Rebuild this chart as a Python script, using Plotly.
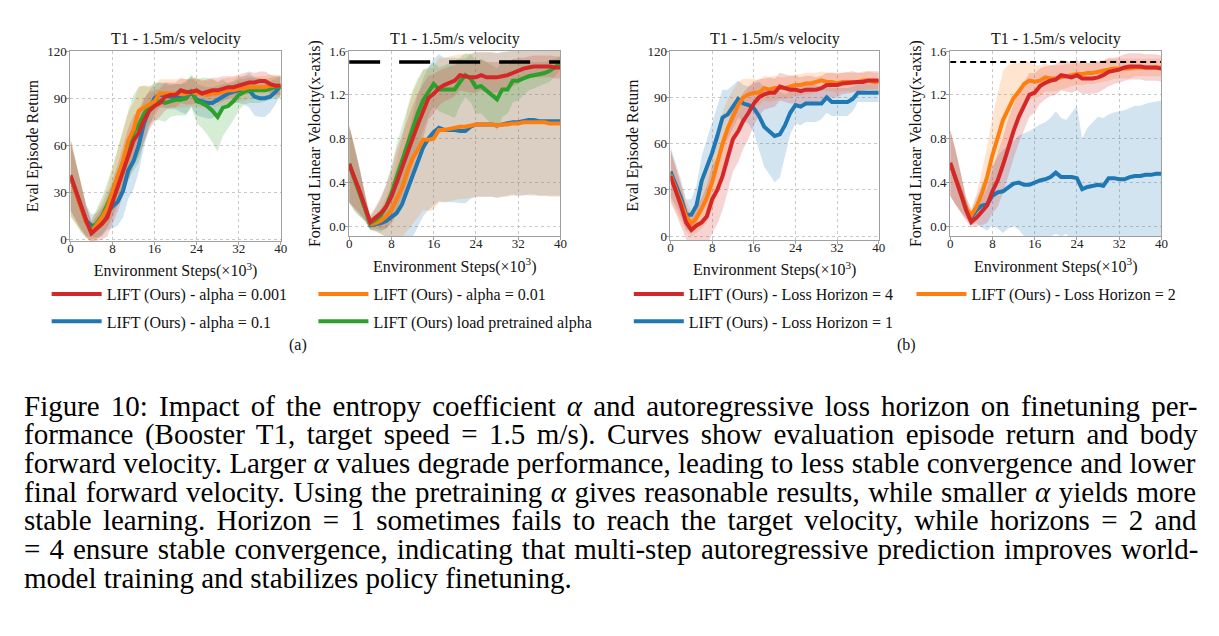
import plotly.graph_objects as go

W, H = 1219, 636
FONT = "Liberation Serif"

steps = list(range(0, 41))
xticks = [0, 8, 16, 24, 32, 40]
target_velocity = 1.5

# ---------------- (a) Eval return, entropy coefficient ----------------
ret_a001 = [41, 31, 21, 12, 4, 7, 10, 14, 24, 33, 43, 54, 63, 68, 76, 82, 85, 87, 91, 92, 92, 95, 94, 94, 95, 93, 94, 95, 95, 96, 97, 97, 98, 99, 100, 100, 101, 101, 99, 98, 98]
ret_a01 = [40, 30, 20, 11, 5, 9, 14, 20, 30, 40, 50, 63, 70, 82, 84, 86, 88, 93, 93, 93, 93, 93, 93, 94, 93, 93, 92, 93, 93, 94, 95, 95, 96, 96, 97, 97, 97, 97, 98, 98, 98]
ret_a1 = [40, 30, 20, 12, 9, 9, 12, 18, 21, 24, 31, 44, 50, 60, 74, 83, 90, 92, 92, 91, 91, 90, 90, 94, 89, 88, 87, 87, 89, 91, 93, 94, 95, 95, 95, 91, 90, 90, 91, 94, 98]
ret_apre = [40, 30, 20, 11, 6, 10, 15, 22, 30, 40, 50, 60, 68, 73, 80, 85, 88, 88, 87, 88, 89, 89, 90, 95, 88, 87, 85, 82, 78, 84, 85, 88, 92, 94, 95, 95, 95, 95, 96, 97, 97]
ret_a001_sd = [22, 18, 14, 10, 6, 8, 10, 12, 14, 15, 16, 17, 16, 15, 14, 12, 10, 9, 9, 8, 8, 8, 8, 8, 8, 8, 8, 8, 8, 8, 7, 7, 7, 7, 7, 6, 6, 6, 6, 6, 6]
ret_a01_sd = [25, 20, 15, 10, 7, 9, 11, 13, 15, 17, 18, 18, 17, 16, 14, 12, 10, 9, 9, 9, 9, 9, 9, 9, 9, 9, 9, 9, 8, 8, 8, 8, 8, 8, 7, 7, 7, 7, 7, 7, 7]
ret_a1_sd = [22, 18, 14, 10, 7, 8, 10, 12, 14, 15, 17, 18, 18, 17, 15, 12, 9, 8, 8, 8, 8, 9, 10, 10, 10, 10, 10, 10, 9, 8, 7, 7, 8, 9, 11, 12, 12, 12, 10, 8, 6]
ret_apre_sd = [25, 20, 15, 10, 6, 9, 12, 14, 16, 18, 20, 22, 24, 24, 18, 12, 12, 12, 12, 10, 10, 10, 11, 10, 14, 16, 18, 20, 22, 18, 14, 12, 10, 8, 8, 8, 8, 7, 7, 7, 7]

# ---------------- (a) Forward velocity, entropy coefficient ----------------
vel_a001 = [0.57, 0.45, 0.32, 0.18, 0.04, 0.08, 0.12, 0.18, 0.27, 0.40, 0.54, 0.67, 0.80, 0.93, 1.05, 1.17, 1.21, 1.26, 1.29, 1.31, 1.33, 1.38, 1.37, 1.36, 1.36, 1.38, 1.36, 1.36, 1.36, 1.37, 1.38, 1.40, 1.42, 1.44, 1.45, 1.46, 1.46, 1.46, 1.46, 1.45, 1.45]
vel_a01 = [0.57, 0.44, 0.31, 0.17, 0.02, 0.03, 0.05, 0.09, 0.15, 0.25, 0.35, 0.50, 0.62, 0.70, 0.79, 0.79, 0.80, 0.88, 0.88, 0.89, 0.90, 0.91, 0.91, 0.92, 0.93, 0.93, 0.93, 0.93, 0.92, 0.93, 0.93, 0.94, 0.94, 0.95, 0.95, 0.95, 0.95, 0.95, 0.94, 0.94, 0.94]
vel_a1 = [0.57, 0.44, 0.31, 0.17, 0.01, 0.02, 0.03, 0.05, 0.08, 0.12, 0.20, 0.33, 0.45, 0.60, 0.72, 0.80, 0.86, 0.90, 0.88, 0.88, 0.88, 0.87, 0.87, 0.91, 0.93, 0.93, 0.93, 0.93, 0.92, 0.93, 0.94, 0.95, 0.95, 0.96, 0.97, 0.97, 0.96, 0.96, 0.96, 0.96, 0.96]
vel_apre = [0.57, 0.44, 0.31, 0.17, 0.03, 0.06, 0.10, 0.18, 0.30, 0.45, 0.60, 0.75, 0.90, 1.03, 1.15, 1.23, 1.30, 1.25, 1.25, 1.25, 1.25, 1.32, 1.38, 1.35, 1.27, 1.28, 1.24, 1.20, 1.16, 1.25, 1.25, 1.33, 1.33, 1.35, 1.37, 1.38, 1.39, 1.40, 1.42, 1.45, 1.49]
vel_a001_sd = [0.35, 0.28, 0.2, 0.12, 0.06, 0.1, 0.15, 0.2, 0.25, 0.3, 0.3, 0.3, 0.3, 0.28, 0.25, 0.2, 0.18, 0.16, 0.15, 0.15, 0.14, 0.14, 0.14, 0.14, 0.14, 0.14, 0.14, 0.14, 0.14, 0.13, 0.13, 0.12, 0.12, 0.1, 0.1, 0.1, 0.1, 0.1, 0.1, 0.1, 0.1]
vel_a01_sd = [0.35, 0.3, 0.22, 0.12, 0.05, 0.08, 0.12, 0.18, 0.25, 0.35, 0.45, 0.55, 0.6, 0.62, 0.64, 0.65, 0.65, 0.66, 0.66, 0.66, 0.66, 0.66, 0.66, 0.66, 0.66, 0.66, 0.66, 0.66, 0.66, 0.66, 0.66, 0.66, 0.66, 0.66, 0.67, 0.67, 0.67, 0.67, 0.67, 0.67, 0.67]
vel_a1_sd = [0.35, 0.3, 0.22, 0.12, 0.04, 0.06, 0.1, 0.15, 0.2, 0.28, 0.38, 0.48, 0.55, 0.6, 0.63, 0.65, 0.67, 0.67, 0.66, 0.66, 0.66, 0.66, 0.66, 0.66, 0.66, 0.66, 0.66, 0.66, 0.66, 0.66, 0.66, 0.66, 0.67, 0.68, 0.68, 0.68, 0.68, 0.68, 0.68, 0.68, 0.68]
vel_apre_sd = [0.35, 0.28, 0.2, 0.12, 0.06, 0.1, 0.15, 0.2, 0.25, 0.3, 0.32, 0.34, 0.34, 0.32, 0.28, 0.22, 0.2, 0.2, 0.22, 0.24, 0.26, 0.22, 0.2, 0.22, 0.24, 0.25, 0.26, 0.27, 0.28, 0.25, 0.22, 0.2, 0.18, 0.15, 0.13, 0.12, 0.11, 0.1, 0.1, 0.08, 0.06]

# ---------------- (b) Eval return, loss horizon ----------------
ret_h4 = [39, 30, 20, 9, 4, 7, 9, 13, 24, 30, 39, 51, 63, 68, 75, 80, 86, 90, 92, 93, 93, 97, 96, 95, 95, 94, 95, 95, 95, 96, 98, 98, 98, 99, 99.5, 100, 100, 100, 101, 101, 101]
ret_h2 = [40, 31, 22, 13, 8, 12, 18, 25, 35, 48, 60, 70, 78, 85, 90, 92, 93, 93, 96, 95, 96, 96, 96, 97, 98, 98, 99, 99, 100, 101, 100, 100, 99, 100, 100, 100, 100, 101, 101, 100, 100]
ret_h1 = [42, 34, 25, 14, 14, 20, 36, 45, 54, 65, 77, 79, 84, 89, 86, 85, 83, 78, 71, 68, 65, 66, 72, 80, 85, 84, 86, 86, 86, 86, 90, 87, 87, 87, 87, 89, 93, 93, 93, 93, 93]
ret_h4_sd = [17, 15, 13, 11, 8, 12, 16, 20, 22, 22, 22, 22, 21, 20, 18, 17, 14, 12, 10, 10, 9, 9, 9, 9, 9, 9, 9, 9, 8, 8, 8, 8, 8, 7, 7, 7, 6, 6, 6, 6, 6]
ret_h2_sd = [16, 14, 12, 10, 8, 10, 13, 16, 18, 20, 20, 19, 17, 15, 12, 10, 9, 8, 8, 8, 8, 7, 7, 7, 7, 7, 7, 7, 6, 6, 6, 6, 6, 6, 6, 6, 6, 6, 6, 6, 6]
ret_h1_sd = [16, 14, 12, 10, 10, 13, 16, 18, 20, 20, 18, 16, 14, 12, 12, 12, 16, 22, 26, 28, 30, 28, 20, 14, 12, 12, 12, 12, 12, 10, 10, 9, 9, 9, 9, 8, 6, 6, 6, 6, 6]

# ---------------- (b) Forward velocity, loss horizon ----------------
vel_h4 = [0.58, 0.45, 0.30, 0.15, 0.04, 0.08, 0.13, 0.19, 0.32, 0.42, 0.56, 0.72, 0.87, 1.00, 1.10, 1.20, 1.22, 1.28, 1.31, 1.33, 1.34, 1.38, 1.37, 1.36, 1.38, 1.35, 1.35, 1.35, 1.36, 1.38, 1.41, 1.42, 1.43, 1.45, 1.46, 1.46, 1.46, 1.45, 1.45, 1.45, 1.44]
vel_h2 = [0.58, 0.45, 0.31, 0.17, 0.10, 0.18, 0.30, 0.45, 0.65, 0.80, 0.97, 1.07, 1.17, 1.23, 1.30, 1.33, 1.32, 1.33, 1.36, 1.35, 1.35, 1.36, 1.37, 1.38, 1.39, 1.39, 1.40, 1.40, 1.41, 1.42, 1.43, 1.44, 1.44, 1.44, 1.44, 1.45, 1.45, 1.45, 1.45, 1.45, 1.45]
vel_h1 = [0.58, 0.45, 0.31, 0.17, 0.08, 0.15, 0.19, 0.20, 0.28, 0.31, 0.32, 0.36, 0.39, 0.40, 0.38, 0.38, 0.40, 0.42, 0.43, 0.45, 0.49, 0.45, 0.45, 0.45, 0.44, 0.34, 0.36, 0.37, 0.38, 0.37, 0.44, 0.44, 0.43, 0.43, 0.45, 0.46, 0.46, 0.47, 0.47, 0.48, 0.48]
vel_h4_sd = [0.3, 0.25, 0.18, 0.1, 0.05, 0.08, 0.12, 0.16, 0.2, 0.24, 0.26, 0.26, 0.25, 0.24, 0.22, 0.2, 0.18, 0.16, 0.15, 0.14, 0.14, 0.14, 0.14, 0.14, 0.14, 0.14, 0.14, 0.14, 0.14, 0.13, 0.13, 0.12, 0.12, 0.12, 0.12, 0.12, 0.12, 0.12, 0.12, 0.12, 0.12]
vel_h2_sd = [0.3, 0.25, 0.18, 0.1, 0.06, 0.12, 0.2, 0.28, 0.35, 0.42, 0.45, 0.4, 0.32, 0.26, 0.2, 0.17, 0.15, 0.14, 0.13, 0.12, 0.12, 0.11, 0.11, 0.1, 0.1, 0.1, 0.1, 0.1, 0.1, 0.1, 0.1, 0.09, 0.09, 0.09, 0.09, 0.08, 0.08, 0.08, 0.08, 0.08, 0.08]
vel_h1_sd = [0.30, 0.25, 0.18, 0.1, 0.07, 0.12, 0.2, 0.24, 0.27, 0.33, 0.38, 0.38, 0.39, 0.43, 0.47, 0.49, 0.50, 0.51, 0.52, 0.54, 0.56, 0.54, 0.52, 0.58, 0.66, 0.46, 0.54, 0.58, 0.62, 0.62, 0.58, 0.6, 0.62, 0.63, 0.63, 0.64, 0.64, 0.65, 0.66, 0.66, 0.67]

caption_lines = [
    "Figure 10: Impact of the entropy coefficient α and autoregressive loss horizon on finetuning per-",
    "formance (Booster T1, target speed = 1.5 m/s). Curves show evaluation episode return and body",
    "forward velocity. Larger α values degrade performance, leading to less stable convergence and lower",
    "final forward velocity. Using the pretraining α gives reasonable results, while smaller α yields more",
    "stable learning. Horizon = 1 sometimes fails to reach the target velocity, while horizons = 2 and",
    "= 4 ensure stable convergence, indicating that multi-step autoregressive prediction improves world-",
    "model training and stabilizes policy finetuning.",
]

RED, ORANGE, BLUE, GREEN = "#d62728", "#ff7f0e", "#1f77b4", "#2ca02c"
FILL = {RED: "rgba(214,39,40,0.2)", ORANGE: "rgba(255,127,14,0.2)",
        BLUE: "rgba(31,119,180,0.2)", GREEN: "rgba(44,160,44,0.2)"}

fig = go.Figure()


def add_series(mean, sd, color, name, ax, legend=None):
    xa = "x" + ("" if ax == 1 else str(ax))
    ya = "y" + ("" if ax == 1 else str(ax))
    upper = [m + s for m, s in zip(mean, sd)]
    lower = [m - s for m, s in zip(mean, sd)]
    fig.add_trace(go.Scatter(x=steps + steps[::-1], y=upper + lower[::-1], fill="toself",
                             fillcolor=FILL[color], line=dict(width=0), mode="lines",
                             hoverinfo="skip", showlegend=False, xaxis=xa, yaxis=ya))
    return dict(x=steps, y=mean, mode="lines", name=name, line=dict(color=color, width=4),
                xaxis=xa, yaxis=ya, showlegend=legend is not None,
                legend=legend if legend else "legend")


lines = []
lines.append(add_series(ret_a1, ret_a1_sd, BLUE, "LIFT (Ours) - alpha = 0.1", 1, "legend3"))
lines.append(add_series(ret_apre, ret_apre_sd, GREEN, "LIFT (Ours) load pretrained alpha", 1, "legend4"))
lines.append(add_series(ret_a01, ret_a01_sd, ORANGE, "LIFT (Ours) - alpha = 0.01", 1, "legend2"))
lines.append(add_series(ret_a001, ret_a001_sd, RED, "LIFT (Ours) - alpha = 0.001", 1, "legend"))
lines.append(add_series(vel_a1, vel_a1_sd, BLUE, "alpha = 0.1", 2))
lines.append(add_series(vel_a01, vel_a01_sd, ORANGE, "alpha = 0.01", 2))
lines.append(add_series(vel_apre, vel_apre_sd, GREEN, "pretrained alpha", 2))
lines.append(add_series(vel_a001, vel_a001_sd, RED, "alpha = 0.001", 2))
lines.append(add_series(ret_h1, ret_h1_sd, BLUE, "LIFT (Ours) - Loss Horizon = 1", 3, "legend7"))
lines.append(add_series(ret_h2, ret_h2_sd, ORANGE, "LIFT (Ours) - Loss Horizon = 2", 3, "legend6"))
lines.append(add_series(ret_h4, ret_h4_sd, RED, "LIFT (Ours) - Loss Horizon = 4", 3, "legend5"))
lines.append(add_series(vel_h1, vel_h1_sd, BLUE, "Horizon = 1", 4))
lines.append(add_series(vel_h2, vel_h2_sd, ORANGE, "Horizon = 2", 4))
lines.append(add_series(vel_h4, vel_h4_sd, RED, "Horizon = 4", 4))

for ln in lines:
    fig.add_trace(go.Scatter(**ln))

fig.add_trace(go.Scatter(x=[steps[0], steps[-1]], y=[target_velocity] * 2, mode="lines",
                         line=dict(color="black", width=3.5, dash="31px,19px"),
                         showlegend=False, hoverinfo="skip", xaxis="x2", yaxis="y2"))
fig.add_trace(go.Scatter(x=[steps[0], steps[-1]], y=[target_velocity] * 2, mode="lines",
                         line=dict(color="black", width=2, dash="6px,4px"),
                         showlegend=False, hoverinfo="skip", xaxis="x4", yaxis="y4"))

# ---------------- axes ----------------
panels = [(68, 280, 45, 239), (349, 562, 45, 234), (673, 883, 45, 238), (955, 1168, 45, 234)]
yranges = [[-1, 120], [-0.09, 1.6], [-2.5, 120], [-0.09, 1.6]]
yticks = [[0, 30, 60, 90, 120], [0.0, 0.4, 0.8, 1.2, 1.6], [0, 30, 60, 90, 120], [0.0, 0.4, 0.8, 1.2, 1.6]]
ytexts = [["0", "30", "60", "90", "120"], ["0.0", "0.4", "0.8", "1.2", "1.6"],
          ["0", "30", "60", "90", "120"], ["0.0", "0.4", "0.8", "1.2", "1.6"]]
ylabels = ["Eval Episode Return", "Forward Linear Velocity(x-axis)",
           "Eval Episode Return", "Forward Linear Velocity(x-axis)"]
xlabel = "Environment Steps(×10<sup>3</sup>)"
TFONT = dict(family=FONT, size=16, color="#111")

common = dict(showline=True, mirror=True, linecolor="#a0a0a0", linewidth=1,
              showgrid=True, gridcolor="#c8c8c8", griddash="dot", gridwidth=1,
              zeroline=False, ticks="outside", ticklen=3, tickcolor="#a0a0a0",
              tickfont=dict(family=FONT, size=13, color="#222"))
annotations = []
for i, (l, r, t, b) in enumerate(panels):
    sfx = "" if i == 0 else str(i + 1)
    fig.update_layout(**{
        "xaxis" + sfx: dict(domain=[l / W, r / W], range=[0, 40], tickvals=xticks,
                            anchor="y" + sfx, ticklabelstandoff=-8,
                            title=dict(text=xlabel, font=TFONT, standoff=10), **common),
        "yaxis" + sfx: dict(domain=[1 - b / H, 1 - t / H], range=yranges[i], tickvals=yticks[i],
                            ticktext=ytexts[i], anchor="x" + sfx, ticklabelstandoff=-3,
                            title=dict(text=ylabels[i], font=TFONT, standoff=4), **common),
    })
    cx = (l + r) / 2 / W
    annotations.append(dict(text="T1 - 1.5m/s velocity", x=cx, y=1 - 33 / H, xref="paper", yref="paper",
                            showarrow=False, font=TFONT, xanchor="center", yanchor="middle"))

annotations.append(dict(text="(a)", x=297 / W, y=1 - 345 / H, xref="paper", yref="paper", showarrow=False,
                        font=TFONT, xanchor="center", yanchor="middle"))
annotations.append(dict(text="(b)", x=911 / W, y=1 - 345 / H, xref="paper", yref="paper", showarrow=False,
                        font=TFONT, xanchor="center", yanchor="middle"))

# ---------------- caption (justified through word-spacing) ----------------
TIMES = {" ": 250, "(": 333, ")": 333, ",": 250, "-": 333, ".": 250, "/": 278, ":": 278, "=": 564,
         "A": 722, "B": 667, "C": 667, "D": 722, "E": 611, "F": 556, "G": 722, "H": 722, "I": 333,
         "J": 389, "K": 722, "L": 611, "M": 889, "N": 722, "O": 722, "P": 556, "Q": 722, "R": 667,
         "S": 556, "T": 611, "U": 722, "V": 722, "W": 944, "X": 722, "Y": 722, "Z": 611,
         "a": 444, "b": 500, "c": 444, "d": 500, "e": 444, "f": 333, "g": 500, "h": 500, "i": 278,
         "j": 278, "k": 500, "l": 278, "m": 778, "n": 500, "o": 500, "p": 500, "q": 500, "r": 333,
         "s": 389, "t": 278, "u": 500, "v": 500, "w": 722, "x": 500, "y": 500, "z": 444, "α": 540}
CAP_FS = 29
CAP_L, CAP_R = 20, 1195
cap_font = dict(family=FONT, size=CAP_FS, color="#000")

for k, line in enumerate(caption_lines):
    words = line.split(" ")
    natural = sum(TIMES.get(c, 500) for c in line) * CAP_FS / 1000.0
    last = k == len(caption_lines) - 1
    extra = 0.0 if last else max(0.0, (CAP_R - CAP_L - natural) / (len(words) - 1))
    body = line.replace("α", "<i>α</i>")
    txt = '<span style="word-spacing:%.2fpx">%s</span>' % (extra, body)
    annotations.append(dict(text=txt, x=CAP_L / W, y=1 - (407 + 29.3 * k) / H, xref="paper", yref="paper",
                            showarrow=False, xanchor="left", yanchor="middle", borderpad=0, font=cap_font))

leg_common = dict(orientation="h", xanchor="left", yanchor="middle", bgcolor="rgba(0,0,0,0)",
                  borderwidth=0, itemwidth=50, font=dict(family=FONT, size=16, color="#111"),
                  itemclick=False, itemdoubleclick=False)
legend_pos = {  # legend id: (x px, y px)
    "legend": (44, 293), "legend2": (313, 293), "legend3": (44, 321), "legend4": (313, 321),
    "legend5": (631, 293), "legend6": (916, 293), "legend7": (631, 321),
}
legends = {k: dict(x=v[0] / W, y=1 - v[1] / H, **leg_common) for k, v in legend_pos.items()}

fig.update_layout(
    width=W, height=H, margin=dict(l=0, r=0, t=0, b=0),
    paper_bgcolor="white", plot_bgcolor="white",
    font=dict(family=FONT, color="#111"),
    annotations=annotations,
    **legends,
)

fig.write_html("out.html")
